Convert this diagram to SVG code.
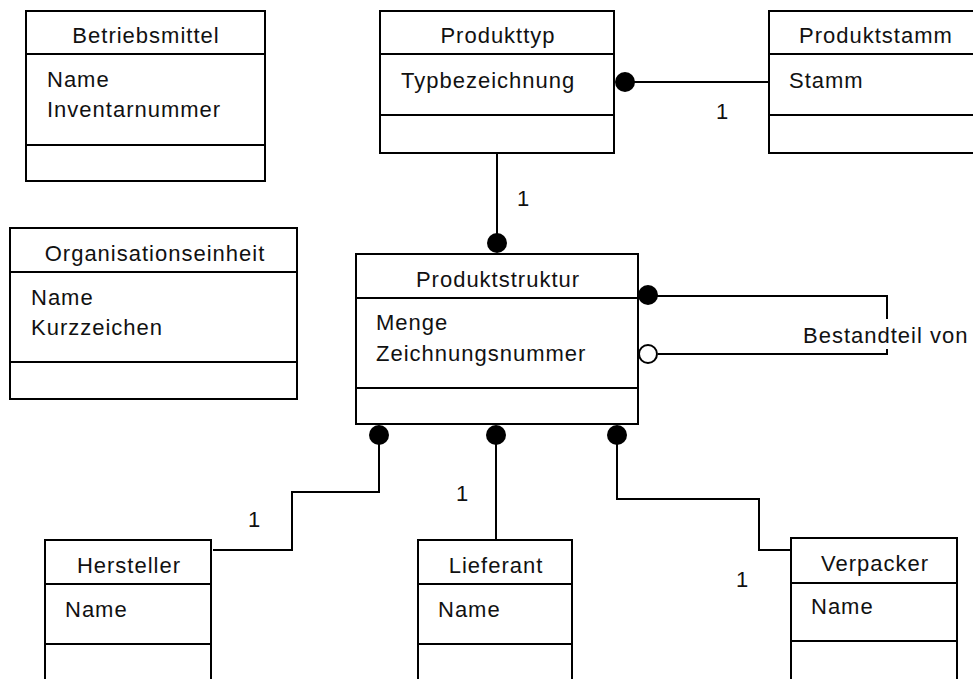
<svg xmlns="http://www.w3.org/2000/svg" width="973" height="679" viewBox="0 0 973 679">
  <style>
    .box { fill: #ffffff; stroke: #000000; stroke-width: 2; }
    .sep { stroke: #000000; stroke-width: 2; fill: none; }
    .conn { stroke: #000000; stroke-width: 2; fill: none; }
    .dot { fill: #000000; stroke: none; }
    .ring { fill: #ffffff; stroke: #000000; stroke-width: 2; }
    text { font-family: "Liberation Sans", Arial, sans-serif; font-size: 22px; letter-spacing: 1px; fill: #111111; }
    .title { text-anchor: middle; }
  </style>

  <!-- associations -->
  <g id="connectors">
    <!-- Produkttyp to Produktstamm -->
    <line class="conn" x1="625" y1="82" x2="769" y2="82"/>
    <circle class="dot" cx="625" cy="82" r="10"/>
    <text x="716" y="119">1</text>

    <!-- Produkttyp to Produktstruktur -->
    <line class="conn" x1="497" y1="153" x2="497" y2="243"/>
    <circle class="dot" cx="497" cy="243" r="10"/>
    <text x="517" y="206">1</text>

    <!-- recursive "Bestandteil von" -->
    <polyline class="conn" points="648,296 887,296 887,319"/>
    <polyline class="conn" points="887,349 887,354 658,354"/>
    <circle class="dot" cx="648" cy="295" r="10"/>
    <circle class="ring" cx="648" cy="354" r="9"/>
    <text x="803" y="343">Bestandteil von</text>

    <!-- Produktstruktur to Hersteller -->
    <polyline class="conn" points="379,435 379,492 292,492 292,550 213,550"/>
    <circle class="dot" cx="379" cy="435" r="10"/>
    <text x="248" y="527">1</text>

    <!-- Produktstruktur to Lieferant -->
    <line class="conn" x1="496" y1="435" x2="496" y2="540"/>
    <circle class="dot" cx="496" cy="435" r="10"/>
    <text x="456" y="501">1</text>

    <!-- Produktstruktur to Verpacker -->
    <polyline class="conn" points="617,435 617,499 759,499 759,550 791,550"/>
    <circle class="dot" cx="617" cy="435" r="10"/>
    <text x="736" y="587">1</text>
  </g>

  <g id="betriebsmittel">
    <rect class="box" x="26" y="11" width="239" height="170"/>
    <line class="sep" x1="26" y1="54" x2="265" y2="54"/>
    <line class="sep" x1="26" y1="145" x2="265" y2="145"/>
    <text class="title" x="146" y="43">Betriebsmittel</text>
    <text x="47" y="87">Name</text>
    <text x="47" y="117">Inventarnummer</text>
  </g>

  <g id="produkttyp">
    <rect class="box" x="380" y="11" width="234" height="142"/>
    <line class="sep" x1="380" y1="54" x2="614" y2="54"/>
    <line class="sep" x1="380" y1="115" x2="614" y2="115"/>
    <text class="title" x="498" y="43">Produkttyp</text>
    <text x="401" y="88">Typbezeichnung</text>
  </g>

  <g id="produktstamm">
    <rect class="box" x="769" y="11" width="220" height="142"/>
    <line class="sep" x1="769" y1="54" x2="989" y2="54"/>
    <line class="sep" x1="769" y1="115" x2="989" y2="115"/>
    <text x="799" y="43">Produktstamm</text>
    <text x="789" y="88">Stamm</text>
  </g>

  <g id="organisationseinheit">
    <rect class="box" x="10" y="228" width="287" height="171"/>
    <line class="sep" x1="10" y1="272" x2="297" y2="272"/>
    <line class="sep" x1="10" y1="362" x2="297" y2="362"/>
    <text class="title" x="155" y="261">Organisationseinheit</text>
    <text x="31" y="305">Name</text>
    <text x="31" y="335">Kurzzeichen</text>
  </g>

  <g id="produktstruktur">
    <rect class="box" x="356" y="254" width="282" height="170"/>
    <line class="sep" x1="356" y1="298" x2="638" y2="298"/>
    <line class="sep" x1="356" y1="388" x2="638" y2="388"/>
    <text class="title" x="498" y="287">Produktstruktur</text>
    <text x="376" y="330">Menge</text>
    <text x="376" y="361">Zeichnungsnummer</text>
  </g>

  <g id="hersteller">
    <rect class="box" x="45" y="540" width="166" height="150"/>
    <line class="sep" x1="45" y1="584" x2="211" y2="584"/>
    <line class="sep" x1="45" y1="644" x2="211" y2="644"/>
    <text class="title" x="129" y="573">Hersteller</text>
    <text x="65" y="617">Name</text>
  </g>

  <g id="lieferant">
    <rect class="box" x="418" y="540" width="154" height="150"/>
    <line class="sep" x1="418" y1="584" x2="572" y2="584"/>
    <line class="sep" x1="418" y1="644" x2="572" y2="644"/>
    <text class="title" x="496" y="573">Lieferant</text>
    <text x="438" y="617">Name</text>
  </g>

  <g id="verpacker">
    <rect class="box" x="791" y="538" width="166" height="150"/>
    <line class="sep" x1="791" y1="583" x2="957" y2="583"/>
    <line class="sep" x1="791" y1="641" x2="957" y2="641"/>
    <text class="title" x="875" y="571">Verpacker</text>
    <text x="811" y="614">Name</text>
  </g>
</svg>
